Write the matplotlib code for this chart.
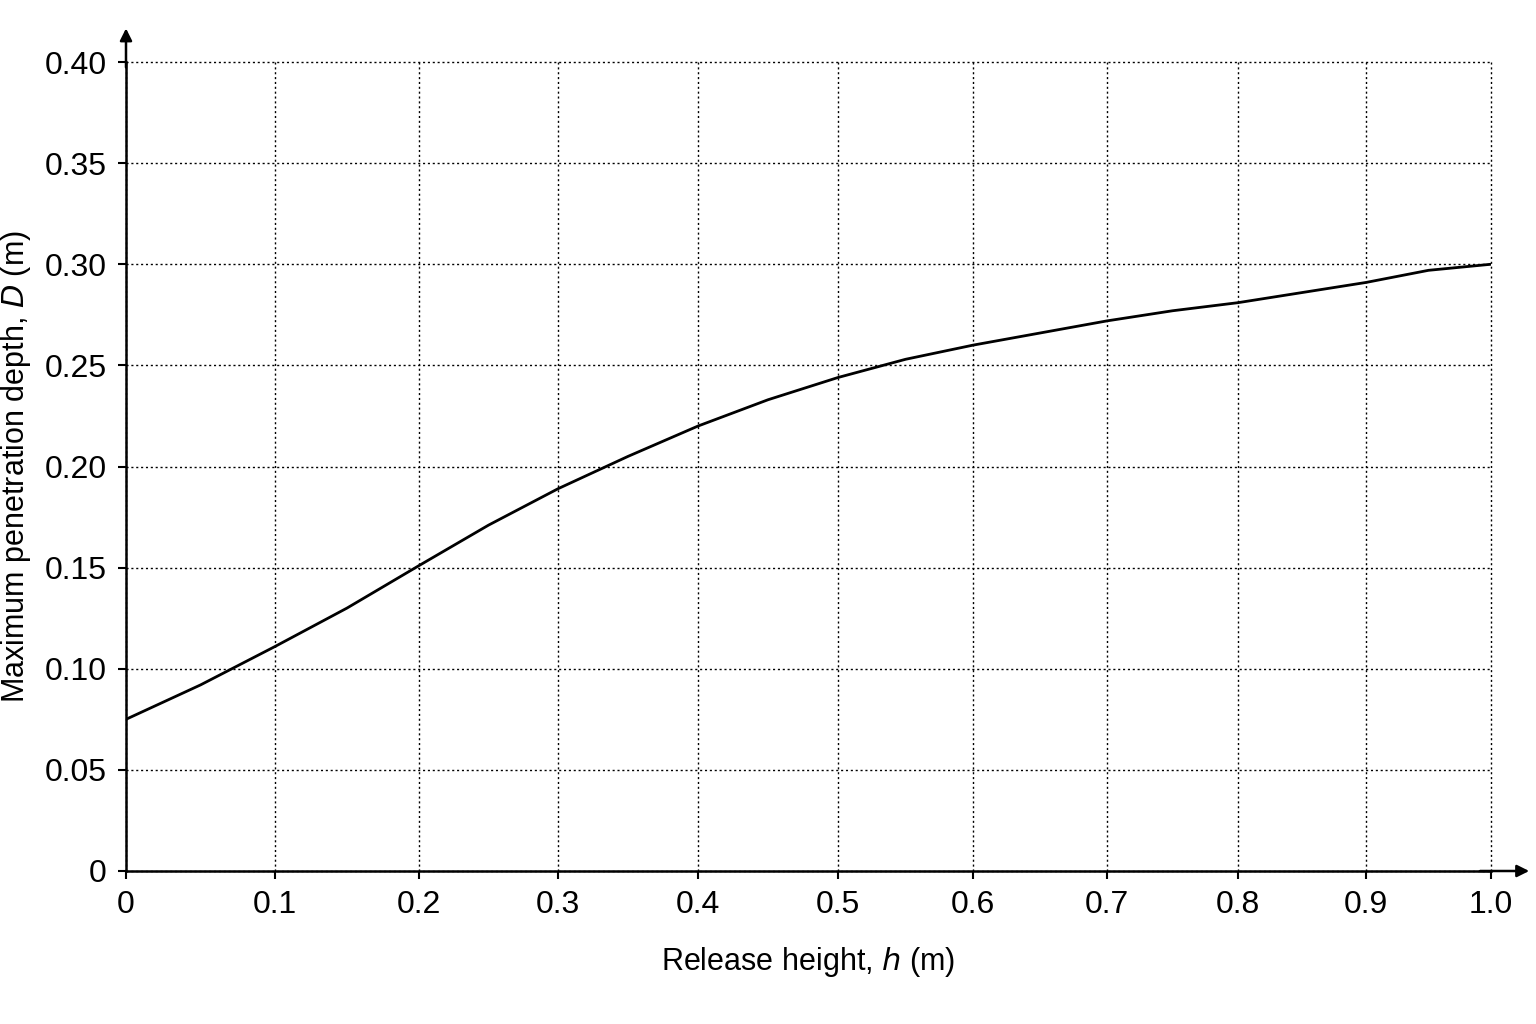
import numpy as np
import matplotlib
matplotlib.use("Agg")
import matplotlib.pyplot as plt
from matplotlib.scale import FuncScale

plt.rcParams['font.family'] = ['Liberation Sans', 'DejaVu Sans']

h = [0, 0.05, 0.1, 0.15, 0.2, 0.25, 0.3, 0.35, 0.4, 0.45, 0.5, 0.55, 0.6, 0.65, 0.7, 0.75, 0.8, 0.85, 0.9, 0.95, 1.0]
D = [0.075, 0.092, 0.111, 0.130, 0.151, 0.171, 0.189, 0.205, 0.220, 0.233, 0.244, 0.253, 0.260, 0.266, 0.272, 0.277, 0.281, 0.286, 0.291, 0.297, 0.300]
x_ticks = [0, 0.1, 0.2, 0.3, 0.4, 0.5, 0.6, 0.7, 0.8, 0.9, 1.0]
x_labels = ['0', '0.1', '0.2', '0.3', '0.4', '0.5', '0.6', '0.7', '0.8', '0.9', '1.0']
y_ticks = [0, 0.05, 0.10, 0.15, 0.20, 0.25, 0.30, 0.35, 0.40]
y_labels = ['0', '0.05', '0.10', '0.15', '0.20', '0.25', '0.30', '0.35', '0.40']
# uneven horizontal spacing of the printed grid (relative positions)
x_pos = np.array([0, 149, 293, 432, 572, 712, 847, 981, 1112, 1240, 1365], float)

xt = np.array(x_ticks)
def fwd(v):
    v = np.asarray(v, float)
    out = np.interp(v, xt, x_pos)
    out = np.where(v > 1, x_pos[-1] + (v - 1) * 1250, out)
    out = np.where(v < 0, v * 1490, out)
    return out
def inv(p):
    p = np.asarray(p, float)
    out = np.interp(p, x_pos, xt)
    out = np.where(p > x_pos[-1], 1 + (p - x_pos[-1]) / 1250, out)
    out = np.where(p < 0, p / 1490, out)
    return out

fig = plt.figure(figsize=(15.36, 10.24), dpi=100)
ax = fig.add_axes([126/1536, 1-871/1024, (1491-126)/1536, (871-62)/1024])
ax.set_xscale(FuncScale(ax, (fwd, inv)))
ax.plot(h, D, color='black', lw=2)
ax.set_xlim(0, 1.0)
ax.set_ylim(0, 0.40)
ax.set_xticks(x_ticks, x_labels)
ax.set_yticks(y_ticks, y_labels)
ax.tick_params(labelsize=23, length=6, width=1.5, direction='out', pad=8)
for s in ['top', 'right']:
    ax.spines[s].set_visible(False)
for s in ['left', 'bottom']:
    ax.spines[s].set_linewidth(1.8)
ax.grid(True, linestyle=(0, (1.5, 2)), color='black', lw=1, clip_on=False)
ax.set_axisbelow(True)
ax.annotate('', xy=(0, 1.045), xytext=(0, 0.99), xycoords='axes fraction',
            arrowprops=dict(arrowstyle='-|>', color='black', lw=1.8, mutation_scale=18), annotation_clip=False)
ax.annotate('', xy=(1.03, 0), xytext=(0.99, 0), xycoords='axes fraction',
            arrowprops=dict(arrowstyle='-|>', color='black', lw=1.8, mutation_scale=18), annotation_clip=False)
ax.set_xlabel('Release height, $\\it{h}$ (m)', fontsize=22, labelpad=18)
ax.set_ylabel('Maximum penetration depth, $\\it{D}$ (m)', fontsize=22, labelpad=8)
fig.savefig('out.png', dpi=100)
